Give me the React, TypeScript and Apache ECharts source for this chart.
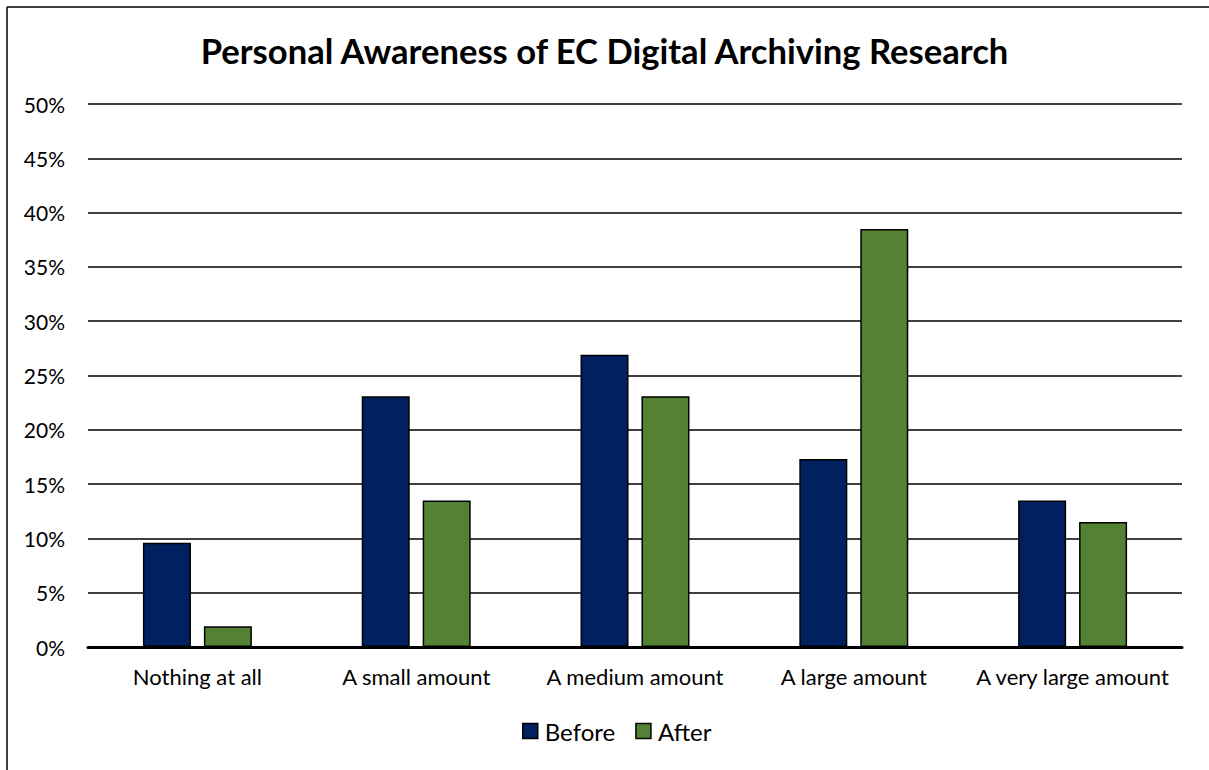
import React, { useEffect, useRef } from "react";
import * as echarts from "echarts";

const categories = ["Nothing at all", "A small amount", "A medium amount", "A large amount", "A very large amount"];
const beforeValues = [9.6, 23.1, 26.9, 17.3, 13.5];
const afterValues = [1.9, 13.5, 23.1, 38.5, 11.5];
const seriesNames = ["Before", "After"];
const titleText = "Personal Awareness of EC Digital Archiving Research";

export default function App() {
  const ref = useRef<HTMLDivElement>(null);
  useEffect(() => {
    document.body.style.margin = "0";
    const chart = echarts.init(ref.current!, null, { renderer: "svg" });
    const font = "Lato, 'Open Sans', sans-serif";
    chart.setOption({
      animation: false,
      backgroundColor: "#ffffff",
      title: {
        text: titleText,
        left: "center",
        top: 28,
        textStyle: { fontFamily: font, fontWeight: "bold", fontSize: 34.6, color: "#000" },
      },
      legend: {
        bottom: 22,
        left: 517,
        itemWidth: 15,
        itemHeight: 15,
        itemGap: 20,
        textStyle: { fontFamily: font, fontSize: 24, color: "#000", padding: [0, 0, 0, 2] },
        data: seriesNames.map((n) => ({ name: n, icon: "rect", itemStyle: { borderColor: "#000", borderWidth: 1.5 } })),
      },
      grid: { left: 88, right: 27, top: 104, bottom: 123 },
      xAxis: {
        type: "category",
        data: categories,
        axisLine: { lineStyle: { color: "#000", width: 3 } },
        axisTick: { show: false },
        axisLabel: { fontFamily: font, fontSize: 22, color: "#000", margin: 18, interval: 0 },
      },
      yAxis: {
        type: "value",
        min: 0,
        max: 50,
        interval: 5,
        axisLine: { show: false },
        axisTick: { show: false },
        splitLine: { lineStyle: { color: "#000", width: 1.5 } },
        axisLabel: { fontFamily: font, fontSize: 21, color: "#000", margin: 23, formatter: "{value}%" },
      },
      graphic: [
        {
          type: "line",
          shape: { x1: 7, y1: 7, x2: 1209, y2: 7 },
          style: { stroke: "#000", lineWidth: 1.5 },
          silent: true,
        },
        {
          type: "line",
          shape: { x1: 7, y1: 7, x2: 7, y2: 770 },
          style: { stroke: "#000", lineWidth: 1.5 },
          silent: true,
        },
      ],
      series: [
        {
          name: seriesNames[0],
          type: "bar",
          data: beforeValues,
          barWidth: 48,
          barGap: "27%",
          itemStyle: { color: "#002060", borderColor: "#000", borderWidth: 1.5 },
        },
        {
          name: seriesNames[1],
          type: "bar",
          data: afterValues,
          barWidth: 48,
          itemStyle: { color: "#548235", borderColor: "#000", borderWidth: 1.5 },
        },
      ],
    });
    return () => chart.dispose();
  }, []);
  return <div ref={ref} style={{ width: 1209, height: 770 }} />;
}
